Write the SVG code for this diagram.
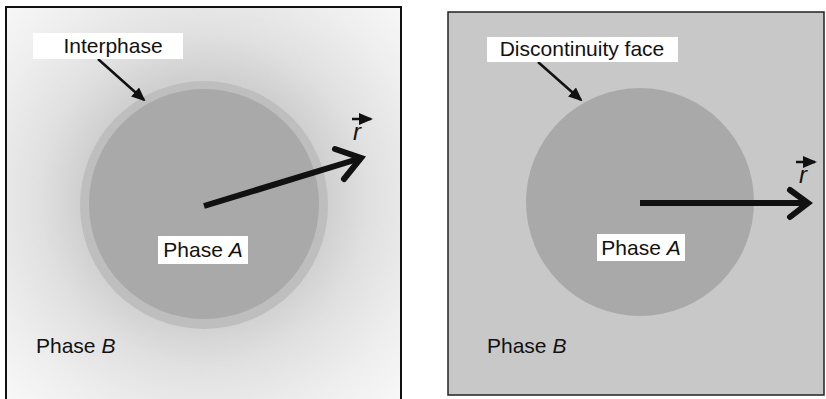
<svg xmlns="http://www.w3.org/2000/svg" width="826" height="399" viewBox="0 0 826 399">
<style>
.lbl{font-family:"Liberation Sans",Arial,sans-serif;font-size:21px;fill:#111}
.rv{font-family:"Liberation Sans",Arial,sans-serif;font-size:24px;font-style:italic;fill:#111}
.box{fill:#fff}
.thin{stroke:#111;stroke-width:2.5;fill:none}
.thick{stroke:#111;stroke-width:6;fill:none}
.chev{stroke:#111;stroke-width:6;fill:none;stroke-linecap:round;stroke-linejoin:miter}
</style>
<defs>
<radialGradient id="bgL" gradientUnits="userSpaceOnUse" cx="204" cy="200" r="300">
<stop offset="0" stop-color="#bcbcbc"/>
<stop offset="0.41" stop-color="#d0d0d0"/>
<stop offset="0.55" stop-color="#e0e0e0"/>
<stop offset="0.75" stop-color="#eeeeee"/>
<stop offset="1" stop-color="#fbfbfb"/>
</radialGradient>
<marker id="tri" markerUnits="userSpaceOnUse" markerWidth="14" markerHeight="12" viewBox="0 0 14 12" refX="12" refY="6" orient="auto">
<path d="M0,0 L14,6 L0,12 Z" fill="#111"/>
</marker>
</defs>
<rect width="826" height="399" fill="#fff"/>

<g id="panel-left">
<rect x="6" y="7" width="395" height="400" fill="url(#bgL)" stroke="#111" stroke-width="2"/>
<g id="interphase-ring"><circle cx="204" cy="205" r="124" fill="#bebebe"/></g>
<g id="phaseA-left"><circle cx="204" cy="204" r="115" fill="#a9a9a9"/></g>
</g>

<g id="panel-right">
<rect x="448" y="12" width="376" height="383" fill="#c8c8c8" stroke="#222" stroke-width="1.5"/>
<g id="phaseA-right"><circle cx="640" cy="202" r="114" fill="#a9a9a9"/></g>
</g>

<g id="connectors">
<line class="thin" x1="98" y1="59" x2="144" y2="100" marker-end="url(#tri)"/>
<line class="thin" x1="538" y1="62" x2="581" y2="100" marker-end="url(#tri)"/>
<line class="thick" x1="204" y1="206" x2="358" y2="159"/>
<path class="chev" d="M335,149 L361,158 L344,179"/>
<line class="thick" x1="640" y1="203" x2="806" y2="203"/>
<path class="chev" d="M790,190 L808,203 L790,217"/>
<line stroke="#111" stroke-width="2.5" x1="352" y1="119" x2="371" y2="119" marker-end="url(#tri)"/>
<line stroke="#111" stroke-width="2.5" x1="796" y1="162" x2="815" y2="162" marker-end="url(#tri)"/>
</g>

<g id="label-interphase">
<rect class="box" x="33" y="33" width="150" height="26"/>
<text class="lbl" x="113" y="53" text-anchor="middle">Interphase</text>
</g>
<g id="label-r-left"><text class="rv" x="353" y="140">r</text></g>
<g id="label-phaseA-left">
<rect class="box" x="158" y="236" width="90" height="28"/>
<text class="lbl" x="203" y="257" text-anchor="middle">Phase <tspan font-style="italic">A</tspan></text>
</g>
<g id="label-phaseB-left"><text class="lbl" x="36" y="353">Phase <tspan font-style="italic">B</tspan></text></g>

<g id="label-discontinuity">
<rect class="box" x="487" y="37" width="191" height="25"/>
<text class="lbl" x="582" y="56" text-anchor="middle">Discontinuity face</text>
</g>
<g id="label-r-right"><text class="rv" x="799" y="183">r</text></g>
<g id="label-phaseA-right">
<rect class="box" x="597" y="234" width="88" height="27"/>
<text class="lbl" x="641" y="255" text-anchor="middle">Phase <tspan font-style="italic">A</tspan></text>
</g>
<g id="label-phaseB-right"><text class="lbl" x="487" y="353">Phase <tspan font-style="italic">B</tspan></text></g>
</svg>
